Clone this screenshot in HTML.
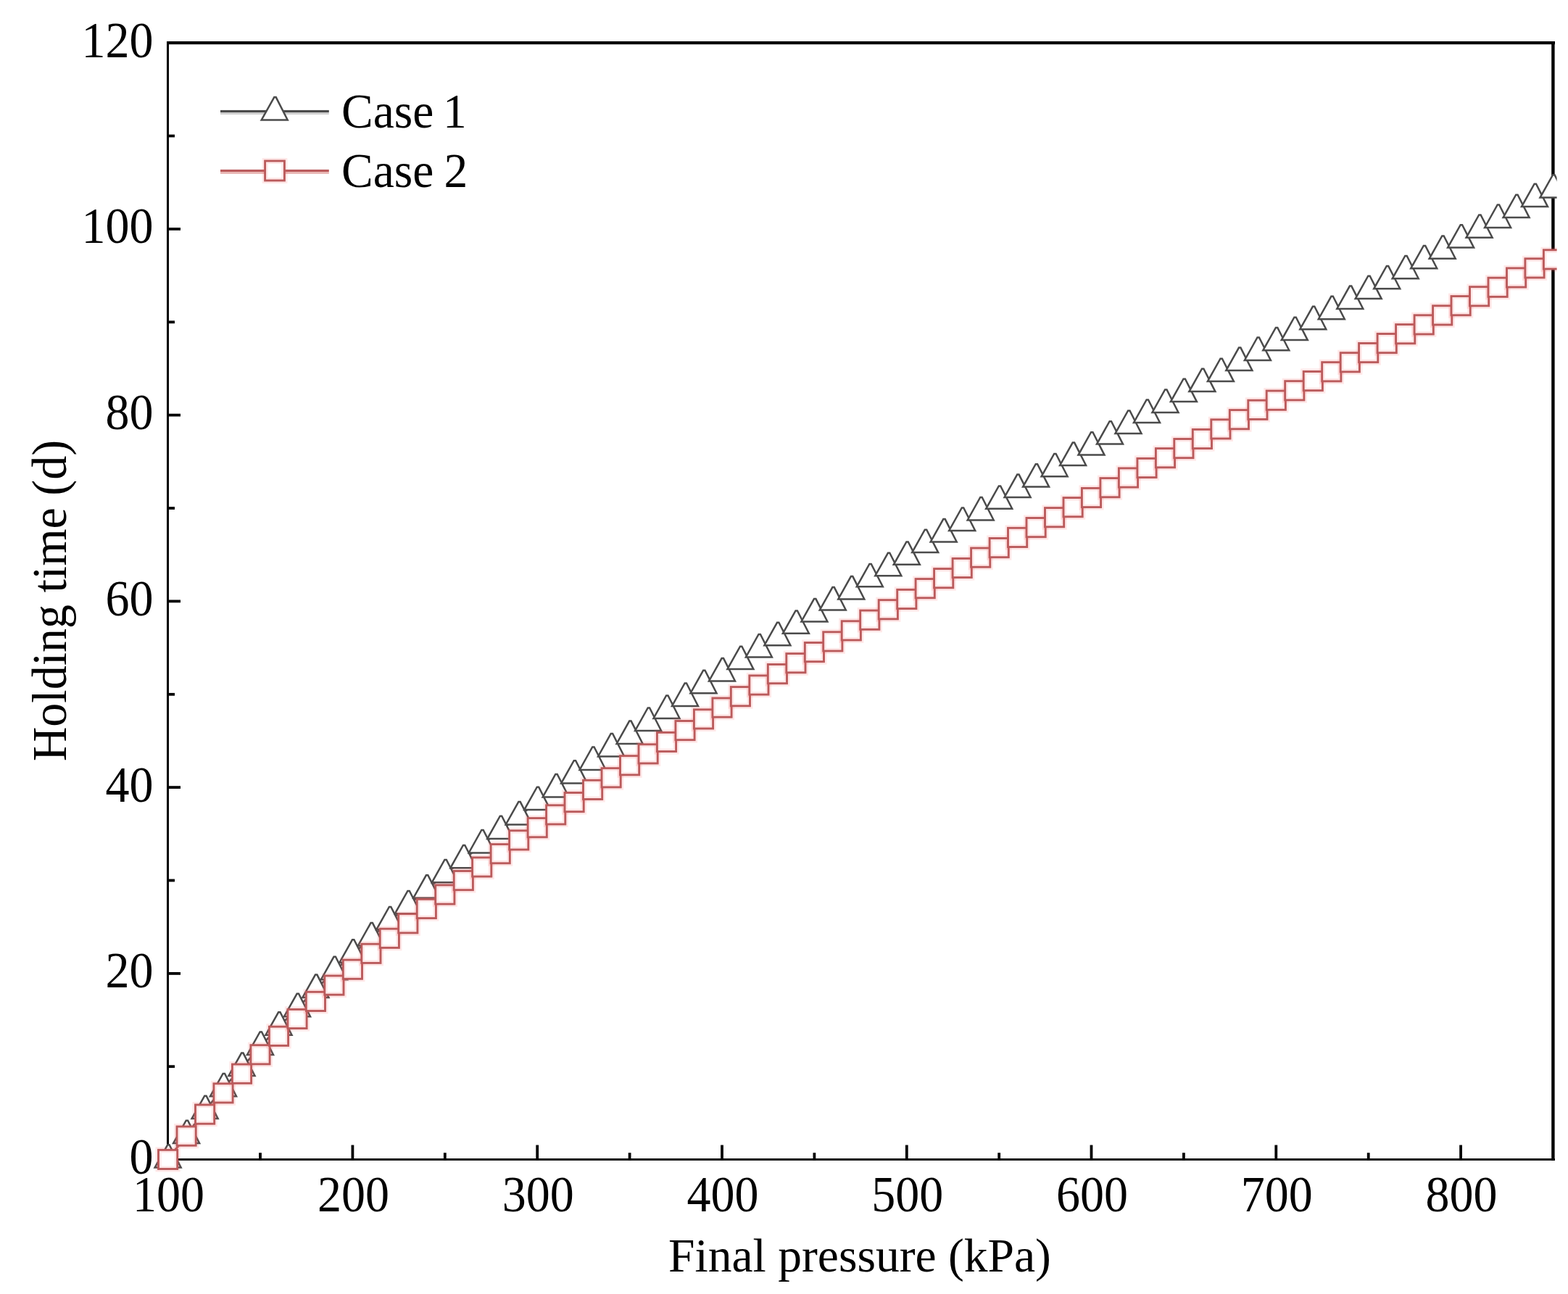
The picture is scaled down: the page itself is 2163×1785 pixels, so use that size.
<!DOCTYPE html>
<html lang="en"><head><meta charset="utf-8"><title>Holding time vs final pressure</title>
<style>html,body{margin:0;padding:0;background:#fff}body{width:2163px;height:1785px;overflow:hidden}svg{display:block}text{font-family:"Liberation Serif","DejaVu Serif",serif;font-size:66px;fill:#000}</style></head><body>
<svg width="2163" height="1785" viewBox="0 0 2163 1785">
<defs><clipPath id="c"><rect x="0" y="0" width="2147.6" height="1785"/></clipPath><g id="s"><rect x="-13.1" y="-13.1" width="26.2" height="26.2" fill="#fff"/><rect x="-13.1" y="-13.1" width="26.2" height="26.2" fill="none" stroke="#ff5a5a" stroke-opacity="0.14" stroke-width="8"/><rect x="-13.1" y="-13.1" width="26.2" height="26.2" fill="none" stroke="#ba5b5c" stroke-width="2.9"/></g><path id="t" d="M-0.4 -20.2H2L18 11.2H-18Z" fill="#fff" stroke="#4b4b4b" stroke-width="2.5" stroke-linejoin="miter"/></defs>
<rect width="2163" height="1785" fill="#fff"/>
<g fill="#000">
<rect x="230" y="57" width="3" height="1544"/>
<rect x="230" y="57" width="1915" height="4.2"/>
<rect x="2140.2" y="57" width="4.4" height="1544"/>
<rect x="230" y="1598" width="1915" height="2.9"/>
<rect x="232" y="1469.3" width="9" height="3.8"/>
<rect x="232" y="1341.0" width="17" height="3.8"/>
<rect x="232" y="1212.6" width="9" height="3.8"/>
<rect x="232" y="1084.2" width="17" height="3.8"/>
<rect x="232" y="955.9" width="9" height="3.8"/>
<rect x="232" y="827.5" width="17" height="3.8"/>
<rect x="232" y="699.1" width="9" height="3.8"/>
<rect x="232" y="570.7" width="17" height="3.8"/>
<rect x="232" y="442.4" width="9" height="3.8"/>
<rect x="232" y="314.0" width="17" height="3.8"/>
<rect x="232" y="185.6" width="9" height="3.8"/>
<rect x="357.1" y="1590.2" width="3.8" height="10"/>
<rect x="484.5" y="1579.5" width="3.8" height="20"/>
<rect x="611.9" y="1590.2" width="3.8" height="10"/>
<rect x="739.3" y="1579.5" width="3.8" height="20"/>
<rect x="866.7" y="1590.2" width="3.8" height="10"/>
<rect x="994.1" y="1579.5" width="3.8" height="20"/>
<rect x="1121.5" y="1590.2" width="3.8" height="10"/>
<rect x="1248.9" y="1579.5" width="3.8" height="20"/>
<rect x="1376.3" y="1590.2" width="3.8" height="10"/>
<rect x="1503.6" y="1579.5" width="3.8" height="20"/>
<rect x="1631.0" y="1590.2" width="3.8" height="10"/>
<rect x="1758.4" y="1579.5" width="3.8" height="20"/>
<rect x="1885.8" y="1590.2" width="3.8" height="10"/>
<rect x="2013.2" y="1579.5" width="3.8" height="20"/>
</g>
<g text-anchor="end">
<text transform="translate(211.5 1619.0) scale(1 1.06)">0</text>
<text transform="translate(211.5 1362.3) scale(1 1.06)">20</text>
<text transform="translate(211.5 1105.5) scale(1 1.06)">40</text>
<text transform="translate(211.5 848.8) scale(1 1.06)">60</text>
<text transform="translate(211.5 592.0) scale(1 1.06)">80</text>
<text transform="translate(211.5 335.3) scale(1 1.06)">100</text>
<text transform="translate(211.5 78.6) scale(1 1.06)">120</text>
</g>
<g text-anchor="middle">
<text transform="translate(232.6 1671) scale(1 1.06)">100</text>
<text transform="translate(487.4 1671) scale(1 1.06)">200</text>
<text transform="translate(742.2 1671) scale(1 1.06)">300</text>
<text transform="translate(997.0 1671) scale(1 1.06)">400</text>
<text transform="translate(1251.8 1671) scale(1 1.06)">500</text>
<text transform="translate(1506.5 1671) scale(1 1.06)">600</text>
<text transform="translate(1761.3 1671) scale(1 1.06)">700</text>
<text transform="translate(2016.1 1671) scale(1 1.06)">800</text>
<text transform="translate(1186 1753.6) scale(0.993 0.98)">Final pressure (kPa)</text>
<text transform="translate(91.4 828.5) rotate(-90) scale(1 1.04)">Holding time (d)</text>
</g>
<rect x="304" y="151.9" width="149.8" height="3.1" fill="#4b4b4b"/><rect x="304" y="155" width="149.8" height="2.9" fill="#cdcdcd"/>
<rect x="304" y="233.9" width="149.8" height="3.1" fill="#ba5b5c"/><rect x="304" y="237" width="149.8" height="2.9" fill="#e8b6b4"/>
<g fill="#fff" stroke="#4b4b4b" stroke-width="2.5" stroke-linejoin="miter"><path d="M378.3 134.1H380.7L396.7 165.5H360.7Z"/></g>
<rect x="365.6" y="222" width="26.8" height="27" fill="#fff"/><rect x="365.6" y="222" width="26.8" height="27" fill="none" stroke="#ff5a5a" stroke-opacity="0.14" stroke-width="8"/><rect x="365.6" y="222" width="26.8" height="27" fill="none" stroke="#ba5b5c" stroke-width="2.9"/>
<text transform="translate(471 176.4) scale(0.992 1.02)">Case<tspan dx="-3.6"> 1</tspan></text>
<text transform="translate(471 257.8) scale(0.992 1.02)">Case<tspan dx="-2.2"> 2</tspan></text>
<g clip-path="url(#c)">
<polyline points="231.6,1599.4 257.1,1565.9 282.6,1531.9 308.0,1501.1 333.5,1472.8 359.0,1443.7 384.5,1416.5 410.0,1391.0 435.4,1364.8 460.9,1340.0 486.4,1316.5 511.9,1293.3 537.3,1271.1 562.8,1249.1 588.3,1227.5 613.8,1206.1 639.3,1186.1 664.7,1165.2 690.2,1145.9 715.7,1126.3 741.2,1105.9 766.7,1088.2 792.1,1069.4 817.6,1050.7 843.1,1032.2 868.6,1014.8 894.1,996.7 919.5,979.7 945.0,962.7 970.5,945.0 996.0,928.3 1021.4,911.9 1046.9,895.2 1072.4,879.0 1097.9,862.6 1123.4,846.3 1148.8,830.3 1174.3,815.3 1199.8,798.1 1225.3,783.0 1250.8,767.6 1276.2,750.9 1301.7,736.3 1327.2,720.7 1352.7,706.2 1378.2,690.6 1403.6,674.8 1429.1,660.4 1454.6,646.1 1480.1,630.8 1505.5,616.4 1531.0,601.4 1556.5,586.7 1582.0,571.7 1607.5,557.7 1632.9,542.9 1658.4,528.9 1683.9,514.9 1709.4,499.8 1734.9,485.7 1760.3,472.1 1785.8,457.9 1811.3,443.0 1836.8,429.0 1862.3,414.8 1887.7,400.9 1913.2,387.1 1938.7,373.1 1964.2,359.1 1989.7,345.6 2015.1,330.4 2040.6,316.6 2066.1,302.7 2091.6,288.9 2117.0,273.9 2142.5,261.4" fill="none" stroke="#4b4b4b" stroke-width="2.6"/>
<use href="#t" x="231.6" y="1599.4"/>
<use href="#t" x="257.1" y="1565.9"/>
<use href="#t" x="282.6" y="1531.9"/>
<use href="#t" x="308.0" y="1501.1"/>
<use href="#t" x="333.5" y="1472.8"/>
<use href="#t" x="359.0" y="1443.7"/>
<use href="#t" x="384.5" y="1416.5"/>
<use href="#t" x="410.0" y="1391.0"/>
<use href="#t" x="435.4" y="1364.8"/>
<use href="#t" x="460.9" y="1340.0"/>
<use href="#t" x="486.4" y="1316.5"/>
<use href="#t" x="511.9" y="1293.3"/>
<use href="#t" x="537.3" y="1271.1"/>
<use href="#t" x="562.8" y="1249.1"/>
<use href="#t" x="588.3" y="1227.5"/>
<use href="#t" x="613.8" y="1206.1"/>
<use href="#t" x="639.3" y="1186.1"/>
<use href="#t" x="664.7" y="1165.2"/>
<use href="#t" x="690.2" y="1145.9"/>
<use href="#t" x="715.7" y="1126.3"/>
<use href="#t" x="741.2" y="1105.9"/>
<use href="#t" x="766.7" y="1088.2"/>
<use href="#t" x="792.1" y="1069.4"/>
<use href="#t" x="817.6" y="1050.7"/>
<use href="#t" x="843.1" y="1032.2"/>
<use href="#t" x="868.6" y="1014.8"/>
<use href="#t" x="894.1" y="996.7"/>
<use href="#t" x="919.5" y="979.7"/>
<use href="#t" x="945.0" y="962.7"/>
<use href="#t" x="970.5" y="945.0"/>
<use href="#t" x="996.0" y="928.3"/>
<use href="#t" x="1021.4" y="911.9"/>
<use href="#t" x="1046.9" y="895.2"/>
<use href="#t" x="1072.4" y="879.0"/>
<use href="#t" x="1097.9" y="862.6"/>
<use href="#t" x="1123.4" y="846.3"/>
<use href="#t" x="1148.8" y="830.3"/>
<use href="#t" x="1174.3" y="815.3"/>
<use href="#t" x="1199.8" y="798.1"/>
<use href="#t" x="1225.3" y="783.0"/>
<use href="#t" x="1250.8" y="767.6"/>
<use href="#t" x="1276.2" y="750.9"/>
<use href="#t" x="1301.7" y="736.3"/>
<use href="#t" x="1327.2" y="720.7"/>
<use href="#t" x="1352.7" y="706.2"/>
<use href="#t" x="1378.2" y="690.6"/>
<use href="#t" x="1403.6" y="674.8"/>
<use href="#t" x="1429.1" y="660.4"/>
<use href="#t" x="1454.6" y="646.1"/>
<use href="#t" x="1480.1" y="630.8"/>
<use href="#t" x="1505.5" y="616.4"/>
<use href="#t" x="1531.0" y="601.4"/>
<use href="#t" x="1556.5" y="586.7"/>
<use href="#t" x="1582.0" y="571.7"/>
<use href="#t" x="1607.5" y="557.7"/>
<use href="#t" x="1632.9" y="542.9"/>
<use href="#t" x="1658.4" y="528.9"/>
<use href="#t" x="1683.9" y="514.9"/>
<use href="#t" x="1709.4" y="499.8"/>
<use href="#t" x="1734.9" y="485.7"/>
<use href="#t" x="1760.3" y="472.1"/>
<use href="#t" x="1785.8" y="457.9"/>
<use href="#t" x="1811.3" y="443.0"/>
<use href="#t" x="1836.8" y="429.0"/>
<use href="#t" x="1862.3" y="414.8"/>
<use href="#t" x="1887.7" y="400.9"/>
<use href="#t" x="1913.2" y="387.1"/>
<use href="#t" x="1938.7" y="373.1"/>
<use href="#t" x="1964.2" y="359.1"/>
<use href="#t" x="1989.7" y="345.6"/>
<use href="#t" x="2015.1" y="330.4"/>
<use href="#t" x="2040.6" y="316.6"/>
<use href="#t" x="2066.1" y="302.7"/>
<use href="#t" x="2091.6" y="288.9"/>
<use href="#t" x="2117.0" y="273.9"/>
<use href="#t" x="2142.5" y="261.4"/>
<polyline points="231.6,1599.4 257.1,1567.1 282.6,1537.1 308.0,1507.9 333.5,1481.2 359.0,1454.8 384.5,1429.3 410.0,1405.5 435.4,1381.4 460.9,1359.1 486.4,1337.2 511.9,1315.3 537.3,1294.3 562.8,1273.8 588.3,1253.5 613.8,1234.0 639.3,1214.6 664.7,1196.0 690.2,1177.7 715.7,1158.9 741.2,1141.7 766.7,1123.9 792.1,1106.6 817.6,1089.4 843.1,1072.8 868.6,1055.8 894.1,1039.9 919.5,1023.5 945.0,1007.6 970.5,991.9 996.0,976.1 1021.4,960.7 1046.9,945.0 1072.4,929.6 1097.9,914.7 1123.4,899.6 1148.8,884.9 1174.3,869.9 1199.8,855.2 1225.3,840.8 1250.8,826.5 1276.2,811.7 1301.7,797.7 1327.2,783.5 1352.7,769.1 1378.2,755.6 1403.6,741.4 1429.1,727.6 1454.6,713.7 1480.1,699.7 1505.5,686.5 1531.0,672.7 1556.5,659.0 1582.0,645.5 1607.5,631.7 1632.9,618.6 1658.4,605.5 1683.9,591.9 1709.4,578.7 1734.9,565.3 1760.3,552.2 1785.8,538.8 1811.3,525.6 1836.8,512.8 1862.3,499.8 1887.7,486.6 1913.2,473.6 1938.7,460.7 1964.2,447.9 1989.7,434.9 2015.1,421.7 2040.6,408.8 2066.1,396.3 2091.6,383.0 2117.0,369.9 2142.5,357.9" fill="none" stroke="#ba5b5c" stroke-width="2.6"/>
<use href="#s" x="231.6" y="1599.4"/>
<use href="#s" x="257.1" y="1567.1"/>
<use href="#s" x="282.6" y="1537.1"/>
<use href="#s" x="308.0" y="1507.9"/>
<use href="#s" x="333.5" y="1481.2"/>
<use href="#s" x="359.0" y="1454.8"/>
<use href="#s" x="384.5" y="1429.3"/>
<use href="#s" x="410.0" y="1405.5"/>
<use href="#s" x="435.4" y="1381.4"/>
<use href="#s" x="460.9" y="1359.1"/>
<use href="#s" x="486.4" y="1337.2"/>
<use href="#s" x="511.9" y="1315.3"/>
<use href="#s" x="537.3" y="1294.3"/>
<use href="#s" x="562.8" y="1273.8"/>
<use href="#s" x="588.3" y="1253.5"/>
<use href="#s" x="613.8" y="1234.0"/>
<use href="#s" x="639.3" y="1214.6"/>
<use href="#s" x="664.7" y="1196.0"/>
<use href="#s" x="690.2" y="1177.7"/>
<use href="#s" x="715.7" y="1158.9"/>
<use href="#s" x="741.2" y="1141.7"/>
<use href="#s" x="766.7" y="1123.9"/>
<use href="#s" x="792.1" y="1106.6"/>
<use href="#s" x="817.6" y="1089.4"/>
<use href="#s" x="843.1" y="1072.8"/>
<use href="#s" x="868.6" y="1055.8"/>
<use href="#s" x="894.1" y="1039.9"/>
<use href="#s" x="919.5" y="1023.5"/>
<use href="#s" x="945.0" y="1007.6"/>
<use href="#s" x="970.5" y="991.9"/>
<use href="#s" x="996.0" y="976.1"/>
<use href="#s" x="1021.4" y="960.7"/>
<use href="#s" x="1046.9" y="945.0"/>
<use href="#s" x="1072.4" y="929.6"/>
<use href="#s" x="1097.9" y="914.7"/>
<use href="#s" x="1123.4" y="899.6"/>
<use href="#s" x="1148.8" y="884.9"/>
<use href="#s" x="1174.3" y="869.9"/>
<use href="#s" x="1199.8" y="855.2"/>
<use href="#s" x="1225.3" y="840.8"/>
<use href="#s" x="1250.8" y="826.5"/>
<use href="#s" x="1276.2" y="811.7"/>
<use href="#s" x="1301.7" y="797.7"/>
<use href="#s" x="1327.2" y="783.5"/>
<use href="#s" x="1352.7" y="769.1"/>
<use href="#s" x="1378.2" y="755.6"/>
<use href="#s" x="1403.6" y="741.4"/>
<use href="#s" x="1429.1" y="727.6"/>
<use href="#s" x="1454.6" y="713.7"/>
<use href="#s" x="1480.1" y="699.7"/>
<use href="#s" x="1505.5" y="686.5"/>
<use href="#s" x="1531.0" y="672.7"/>
<use href="#s" x="1556.5" y="659.0"/>
<use href="#s" x="1582.0" y="645.5"/>
<use href="#s" x="1607.5" y="631.7"/>
<use href="#s" x="1632.9" y="618.6"/>
<use href="#s" x="1658.4" y="605.5"/>
<use href="#s" x="1683.9" y="591.9"/>
<use href="#s" x="1709.4" y="578.7"/>
<use href="#s" x="1734.9" y="565.3"/>
<use href="#s" x="1760.3" y="552.2"/>
<use href="#s" x="1785.8" y="538.8"/>
<use href="#s" x="1811.3" y="525.6"/>
<use href="#s" x="1836.8" y="512.8"/>
<use href="#s" x="1862.3" y="499.8"/>
<use href="#s" x="1887.7" y="486.6"/>
<use href="#s" x="1913.2" y="473.6"/>
<use href="#s" x="1938.7" y="460.7"/>
<use href="#s" x="1964.2" y="447.9"/>
<use href="#s" x="1989.7" y="434.9"/>
<use href="#s" x="2015.1" y="421.7"/>
<use href="#s" x="2040.6" y="408.8"/>
<use href="#s" x="2066.1" y="396.3"/>
<use href="#s" x="2091.6" y="383.0"/>
<use href="#s" x="2117.0" y="369.9"/>
<use href="#s" x="2142.5" y="357.9"/>
</g>
</svg></body></html>
